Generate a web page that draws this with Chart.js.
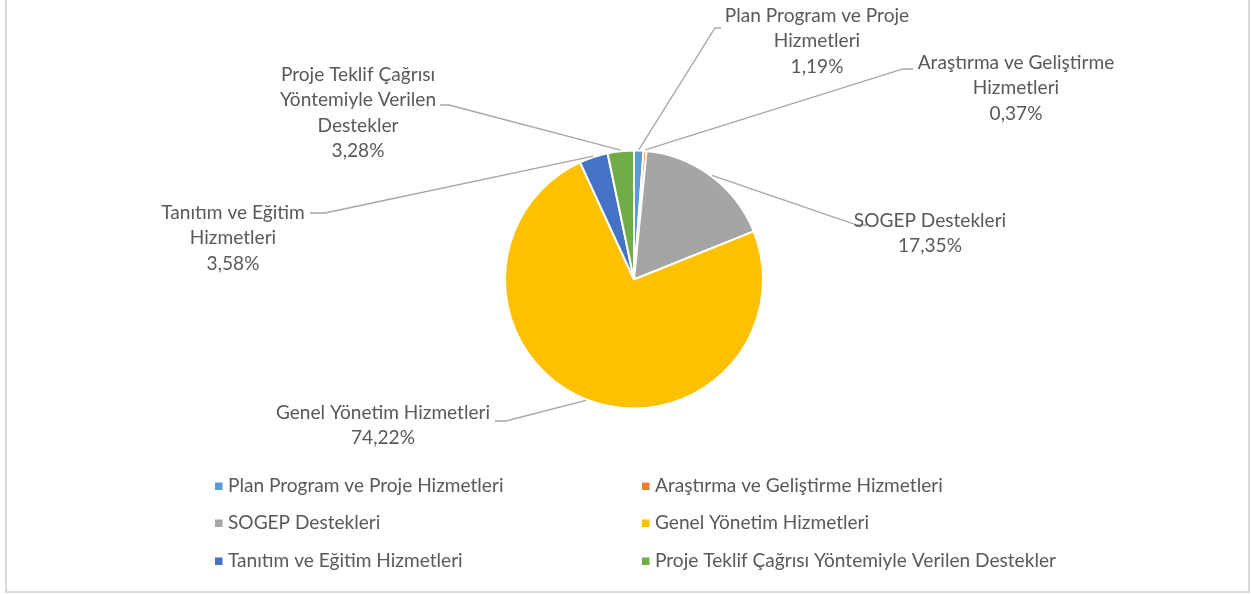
<!DOCTYPE html>
<html>
<head>
<meta charset="utf-8">
<script src="https://cdn.jsdelivr.net/npm/chart.js@4/dist/chart.umd.min.js"></script>
<style>
  html, body { margin: 0; padding: 0; background: #fff; }
  #wrap { position: relative; width: 1251px; height: 594px; }
</style>
</head>
<body>
<div id="wrap"><canvas id="pieChart" width="1251" height="594"></canvas></div>
<script>
// 데이터
const categories = [
    'Plan Program ve Proje Hizmetleri',
    'Araştırma ve Geliştirme Hizmetleri',
    'SOGEP Destekleri',
    'Genel Yönetim Hizmetleri',
    'Tanıtım ve Eğitim Hizmetleri',
    'Proje Teklif Çağrısı Yöntemiyle Verilen Destekler'
];
const shares = [1.19, 0.37, 17.35, 74.22, 3.58, 3.28];
const shareLabels = ['1,19%', '0,37%', '17,35%', '74,22%', '3,58%', '3,28%'];
const labelLines = [
    ['Plan Program ve Proje', 'Hizmetleri'],
    ['Araştırma ve Geliştirme', 'Hizmetleri'],
    ['SOGEP Destekleri'],
    ['Genel Yönetim Hizmetleri'],
    ['Tanıtım ve Eğitim', 'Hizmetleri'],
    ['Proje Teklif Çağrısı', 'Yöntemiyle Verilen', 'Destekler']
];
const colors = ['#5B9BD5', '#ED7D31', '#A5A5A5', '#FFC000', '#4472C4', '#70AD47'];

const FAMILY = 'Lato, "Open Sans", sans-serif';
const TEXT_COLOR = '#595959';
const LINE_H = 25.3;
let FONT = '16px ' + FAMILY;

// 글꼴 크기: 범례 첫 항목 폭(약 275px)에 맞춤
(function fitFont() {
    const m = document.createElement('canvas').getContext('2d');
    m.font = '16px ' + FAMILY;
    const w = m.measureText(categories[0]).width;
    const size = Math.min(20, Math.max(14, 16 * 275 / w));
    FONT = size.toFixed(1) + 'px ' + FAMILY;
})();

// 라벨 배치 (텍스트 중심 x, 첫 줄 y, 꺾임점)
const labelLayout = [
    { cx: 817, y: 16, ex: 715, ey: 28, hx: 721 },
    { cx: 1016, y: 63, ex: 903, ey: 69, hx: 913 },
    { cx: 930, y: 221, ex: 857, ey: 225, hx: 867 },
    { cx: 383, y: 413, ex: 506, ey: 421, hx: 495 },
    { cx: 233, y: 213, ex: 325, ey: 213, hx: 310 },
    { cx: 358, y: 75, ex: 449, ey: 105, hx: 440 }
];

// 테두리
const framePlugin = {
    id: 'frame',
    beforeDraw(chart) {
        const c = chart.ctx;
        c.save();
        c.strokeStyle = '#d9d9d9';
        c.lineWidth = 2;
        c.strokeRect(6, -5, 1243, 597);
        c.restore();
    }
};

// 지시선 + 데이터 라벨
const pieLabelPlugin = {
    id: 'pieLabels',
    afterDatasetsDraw(chart) {
        const c = chart.ctx;
        const meta = chart.getDatasetMeta(0);
        c.save();
        c.font = FONT;
        c.textAlign = 'center';
        c.textBaseline = 'middle';
        meta.data.forEach((arc, i) => {
            const L = labelLayout[i];
            const mid = (arc.startAngle + arc.endAngle) / 2;
            const sx = arc.x + Math.cos(mid) * (arc.outerRadius + 1);
            const sy = arc.y + Math.sin(mid) * (arc.outerRadius + 1);
            c.strokeStyle = '#a6a6a6';
            c.lineWidth = 1.3;
            c.beginPath();
            c.moveTo(sx, sy);
            c.lineTo(L.ex, L.ey);
            c.lineTo(L.hx, L.ey);
            c.stroke();
            c.fillStyle = TEXT_COLOR;
            const lines = labelLines[i].concat([shareLabels[i]]);
            lines.forEach((t, k) => c.fillText(t, L.cx, L.y + k * LINE_H));
        });
        c.restore();
    }
};

// 범례 (2열)
const gridLegendPlugin = {
    id: 'gridLegend',
    afterDraw(chart) {
        const c = chart.ctx;
        const colX = [215, 642];
        const rowY = [486, 523, 561];
        c.save();
        c.font = FONT;
        c.textBaseline = 'middle';
        c.textAlign = 'left';
        categories.forEach((name, i) => {
            const x = colX[i % 2];
            const y = rowY[Math.floor(i / 2)];
            c.fillStyle = colors[i];
            c.fillRect(x, y - 3.5, 7.5, 7.5);
            c.fillStyle = TEXT_COLOR;
            c.fillText(name, x + 13, y);
        });
        c.restore();
    }
};

const ctx = document.getElementById('pieChart').getContext('2d');
new Chart(ctx, {
    type: 'pie',
    data: {
        labels: categories,
        datasets: [{
            data: shares,
            backgroundColor: colors,
            borderColor: '#ffffff',
            borderWidth: 2
        }]
    },
    options: {
        responsive: false,
        animation: false,
        layout: { padding: { top: 149.5, bottom: 184.5, left: 399, right: 382 } },
        plugins: {
            legend: { display: false },
            tooltip: { enabled: false }
        }
    },
    plugins: [framePlugin, pieLabelPlugin, gridLegendPlugin]
});
</script>
</body>
</html>
